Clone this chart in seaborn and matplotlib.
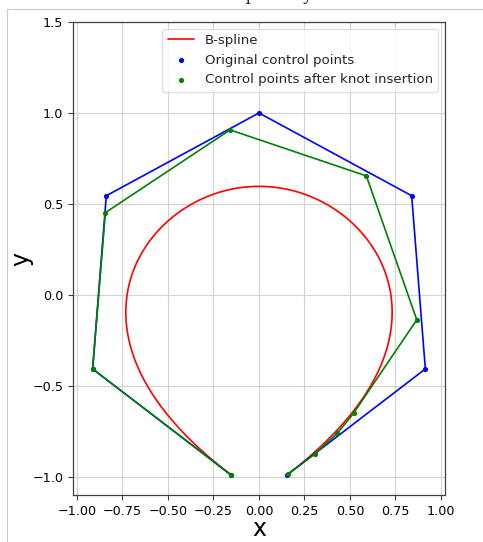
import numpy as np
import matplotlib
matplotlib.use("Agg")
import matplotlib.pyplot as plt
import seaborn as sns
from matplotlib.lines import Line2D

# original control points of the clamped quintic B-spline
ctrl_x = [0.156, 0.914, 0.839, 0.0, -0.839, -0.914, -0.156]
ctrl_y = [-0.988, -0.407, 0.545, 1.0, 0.545, -0.407, -0.988]
degree = 5
knots = [0, 0, 0, 0, 0, 0, 0.5, 1, 1, 1, 1, 1, 1]

# control points after knot insertion
new_x = [0.157, 0.307, 0.431, 0.520, 0.867, 0.590, -0.159, -0.844, -0.914, -0.156]
new_y = [-0.987, -0.874, -0.760, -0.650, -0.137, 0.654, 0.907, 0.452, -0.407, -0.988]


def bspline_curve(px, py, k, t, n_samples=400):
    """Evaluate a B-spline with Cox-de Boor recursion."""
    t = np.asarray(t, float)
    n = len(px)
    u = np.linspace(t[k], t[-k - 1], n_samples)
    B = np.zeros((len(u), len(t) - 1))
    for i in range(len(t) - 1):
        B[:, i] = (u >= t[i]) & (u < t[i + 1])
    B[-1, n - 1] = 1.0
    for d in range(1, k + 1):
        Bn = np.zeros((len(u), len(t) - 1 - d))
        for i in range(len(t) - 1 - d):
            if t[i + d] > t[i]:
                Bn[:, i] += (u - t[i]) / (t[i + d] - t[i]) * B[:, i]
            if t[i + d + 1] > t[i + 1]:
                Bn[:, i] += (t[i + d + 1] - u) / (t[i + d + 1] - t[i + 1]) * B[:, i + 1]
        B = Bn
    return B @ np.asarray(px), B @ np.asarray(py)


curve_x, curve_y = bspline_curve(ctrl_x, ctrl_y, degree, knots)

sns.set_style("ticks", {"axes.grid": True, "grid.color": "#d3d3d3",
                        "axes.edgecolor": "#404040"})
plt.rcParams['font.family'] = ['DejaVu Sans']

fig = plt.figure(figsize=(4.83, 5.42), dpi=100)
ax = fig.add_axes([0.1511, 0.0867, 0.7702, 0.8727])

sns.lineplot(x=curve_x, y=curve_y, sort=False, estimator=None, color="red",
             lw=1.2, label="B-spline", ax=ax)
sns.lineplot(x=ctrl_x, y=ctrl_y, sort=False, estimator=None, color="blue",
             lw=1.2, legend=False, ax=ax)
sns.scatterplot(x=ctrl_x, y=ctrl_y, color="blue", s=14, linewidth=0,
                label="Original control points", ax=ax, zorder=3)
sns.lineplot(x=new_x, y=new_y, sort=False, estimator=None, color="green",
             lw=1.2, legend=False, ax=ax)
sns.scatterplot(x=new_x, y=new_y, color="green", s=14, linewidth=0,
                label="Control points after knot insertion", ax=ax, zorder=3)

ax.set_xlim(-1.022, 1.022)
ax.set_ylim(-1.1, 1.5)
ax.set_xticks(np.arange(-1.0, 1.01, 0.25))
ax.set_yticks(np.arange(-1.0, 1.51, 0.5))
ax.tick_params(labelsize=9.2, length=3.5, width=0.8, color="#404040",
               labelcolor="black")
ax.grid(True, color="#d3d3d3", lw=0.8)
for s in ax.spines.values():
    s.set_linewidth(0.9)
ax.set_xlabel("x", fontsize=17, labelpad=-0.5, color="black")
ax.set_ylabel("y", fontsize=17, labelpad=-1, color="black")
ax.legend(loc="upper right", fontsize=9.6, frameon=True, framealpha=0.8,
          edgecolor="#d9d9d9")

# cropped title and outer frame of the original page
fig.text(0.4534, 1.0, "B-spline by knot insertion", family="DejaVu Serif",
         fontsize=12, va="baseline", ha="left")
fig.add_artist(Line2D([7 / 483, 7 / 483], [0, 1 - 9 / 542], transform=fig.transFigure,
                      color="#cccccc", lw=0.8))
fig.add_artist(Line2D([7 / 483, 1], [1 - 9 / 542, 1 - 9 / 542], transform=fig.transFigure,
                      color="#cccccc", lw=0.8))

fig.savefig("out.png", dpi=100)
